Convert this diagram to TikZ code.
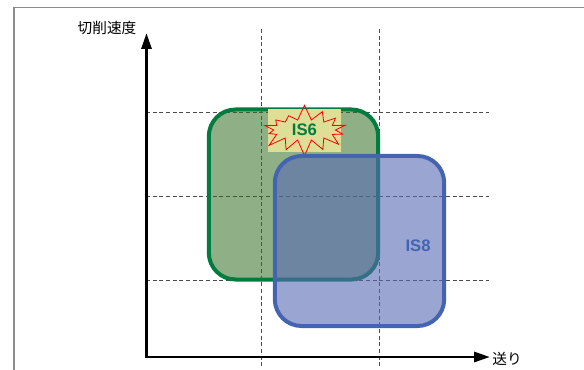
\documentclass[tikz,border=0pt]{standalone}
\usepackage{fontspec}
\setmainfont{Liberation Sans}
\newfontfamily\jpfont{Noto Sans CJK JP}
\usetikzlibrary{arrows.meta,shapes.symbols}
\definecolor{ZoneGreen}{RGB}{51,111,37}
\definecolor{EdgeGreen}{RGB}{0,125,62}
\definecolor{ZoneBlue}{RGB}{88,105,180}
\definecolor{EdgeBlue}{RGB}{68,100,178}
\definecolor{BadgeYellow}{RGB}{222,222,150}
\definecolor{FrameGray}{RGB}{140,140,140}
\tikzset{
  zone/.style={
    draw,
    rounded corners=20pt,
    line width=3pt,
    minimum width=127pt,
    minimum height=127.5pt,
    inner sep=0pt
  },
  gridline/.style={dash pattern=on 3pt off 2pt,line width=0.5pt,black!70},
  axis/.style={{Triangle[length=12pt,width=7.5pt]}-{Triangle[length=12pt,width=7.5pt]},line width=2.2pt},
  axislabel/.style={font=\jpfont\fontsize{11pt}{13pt}\selectfont},
  zonelabel/.style={font=\bfseries\fontsize{12.5pt}{14pt}\selectfont}
}

\begin{document}
\begin{tikzpicture}[x=0.75pt,y=-0.75pt]
\useasboundingbox (0,0) rectangle (584,370);

% frame
\draw[FrameGray,line width=1pt] (14,370) -- (14,7.5) -- (584,7.5);

% grid
\foreach \gx in {261.5,379.5}
  \draw[gridline] (\gx,29) -- (\gx,366);
\foreach \gy in {112.5,196.5,280}
  \draw[gridline] (146,\gy) -- (489,\gy);

% zones
\node[zone,draw=EdgeGreen,fill=ZoneGreen,fill opacity=0.55] (is6zone) at (293.5,194.5) {};
\node[fill=BadgeYellow,minimum width=55pt,minimum height=32pt,inner sep=0pt] (badge) at (304.75,130.75) {};
\node[starburst,draw=red,line width=0.6pt,starburst points=14,starburst point height=12pt,
  random starburst=7,inner xsep=7pt,inner ysep=1pt,text=EdgeGreen,zonelabel] (is6) at (304.5,130) {IS6};
\node[zone,draw=EdgeBlue,fill=ZoneBlue,fill opacity=0.6] (is8zone) at (359.5,241) {};
\node[zonelabel,text=EdgeBlue] (is8) at (418,245.5) {IS8};

% axes
\coordinate (origin) at (146.5,357);
\coordinate (vtip) at (146.5,33);
\coordinate (ftip) at (490,357);
\draw[axis] (vtip) -- (origin) -- (ftip);
\node[axislabel] (vlabel) at (107,28) {切削速度};
\node[axislabel] (flabel) at (507,359) {送り};

\end{tikzpicture}
\end{document}
